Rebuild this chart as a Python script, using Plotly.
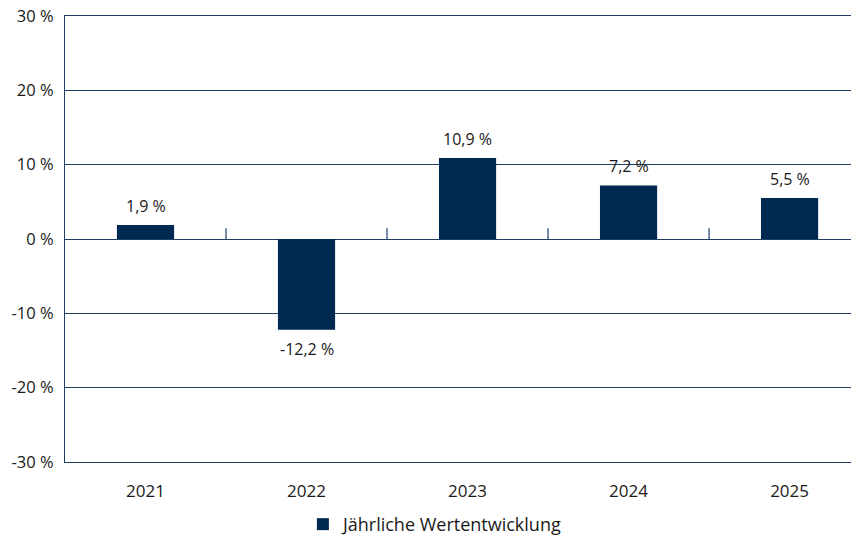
import plotly.graph_objects as go

years = ["2021", "2022", "2023", "2024", "2025"]
values = [1.9, -12.2, 10.9, 7.2, 5.5]
y_ticks = [-30, -20, -10, 0, 10, 20, 30]
y_tick_labels = [f"{v} %" for v in y_ticks]
series_name = "Jährliche Wertentwicklung"

navy = "#002952"
line_col = "#1d3f66"
text_col = "#1a1a1a"
font_family = "Open Sans, Noto Sans, sans-serif"

labels = [f"{v:.1f}".replace(".", ",") + " %" for v in values]

fig = go.Figure()
fig.add_trace(go.Bar(
    x=list(range(len(years))), y=values, name=series_name,
    marker=dict(color=navy, line=dict(width=0)),
    width=0.355,
    showlegend=True,
))

annotations = []
for i, (v, t) in enumerate(zip(values, labels)):
    annotations.append(dict(
        x=i, y=v, xref="x", yref="y", text=t, showarrow=False,
        yanchor="bottom" if v >= 0 else "top",
        yshift=6 if v >= 0 else -6,
        font=dict(size=16, color=text_col, family=font_family),
    ))

# category separator ticks above the zero line
shapes = []
for i in range(len(years) - 1):
    shapes.append(dict(type="line", xref="x", yref="y",
                       x0=i + 0.5, x1=i + 0.5, y0=0, y1=1.45,
                       line=dict(color=line_col, width=1.2)))

# page body has an 8px default margin, so the figure is sized/offset to compensate
fig.update_layout(
    width=851, height=531,
    margin=dict(l=57, r=1, t=8, b=77, autoexpand=False),
    paper_bgcolor="white", plot_bgcolor="white",
    font=dict(family=font_family, size=15, color=text_col),
    shapes=shapes,
    annotations=annotations,
    showlegend=True,
    legend=dict(orientation="h", x=0.3, xanchor="left", y=-0.14, yanchor="middle",
                font=dict(size=18, color=text_col)),
    xaxis=dict(
        range=[-0.5, 4.425],
        tickvals=list(range(len(years))), ticktext=years,
        showgrid=False, zeroline=False,
        showline=True, mirror=True, linecolor=line_col, linewidth=1.3,
        ticks="", ticklabelstandoff=13, automargin=False,
        tickfont=dict(size=17, color=text_col),
    ),
    yaxis=dict(
        range=[-30, 30],
        tickvals=y_ticks, ticktext=y_tick_labels,
        showgrid=True, gridcolor=line_col, gridwidth=1,
        zeroline=True, zerolinecolor=line_col, zerolinewidth=1.3,
        showline=True, linecolor=line_col, linewidth=1.3,
        ticks="", ticklabelstandoff=7, automargin=False,
        ticklabeloverflow="allow",
        tickfont=dict(size=16.5, color=text_col),
    ),
)

fig.write_html("out.html")
